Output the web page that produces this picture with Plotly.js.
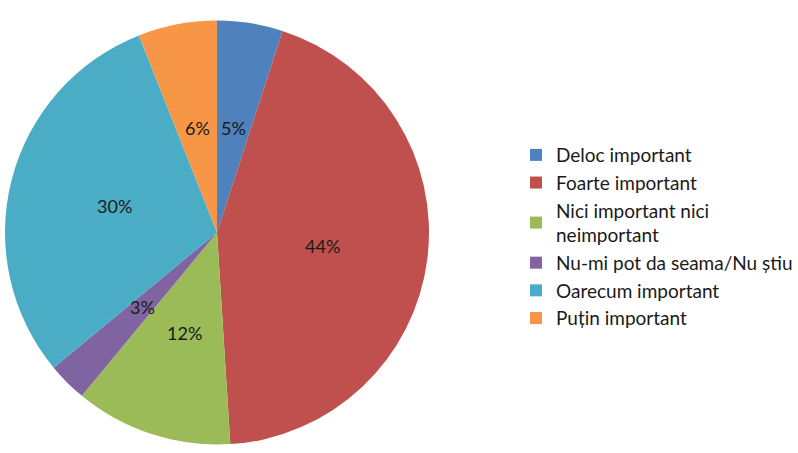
<!DOCTYPE html>
<html>
<head>
<meta charset="utf-8">
<script src="https://cdn.plot.ly/plotly-3.0.1.min.js"></script>
<style>html,body{margin:0;padding:0;background:#fff;}#chart{width:798px;height:453px;}</style>
</head>
<body>
<div id="chart"></div>
<script>
const categories = ["Deloc important", "Foarte important", "Nici important nici<br>neimportant", "Nu-mi pot da seama/Nu știu", "Oarecum important", "Puțin important"];
const values = [5, 44, 12, 3, 30, 6];
const colors = ["#4F81BD", "#C0504D", "#9BBB59", "#8064A2", "#4BACC6", "#F79646"];

const W = 798, H = 453;
const dom = {x: [5 / W, 429 / W], y: [0, 1 - 12 / H]};

const trace = {
  type: 'pie',
  labels: categories,
  values: values,
  sort: false,
  direction: 'clockwise',
  rotation: 0,
  marker: {colors: colors, line: {width: 0}},
  textinfo: 'none',
  domain: dom,
  hoverinfo: 'label+percent'
};

// Percent labels placed at about half radius along each slice's mid-angle (derived from values)
const total = values.reduce((a, b) => a + b, 0);
const cxPx = (dom.x[0] + dom.x[1]) / 2 * W;
const cyPx = (dom.y[0] + dom.y[1]) / 2 * H;
const Rpx = Math.min((dom.x[1] - dom.x[0]) * W, (dom.y[1] - dom.y[0]) * H) / 2;
const annotations = [];
let cum = 0;
values.forEach((v, i) => {
  const mid = (cum + v / 2) / total * 2 * Math.PI;
  cum += v;
  const r = 0.5 * Rpx;
  annotations.push({
    xref: 'paper', yref: 'paper',
    x: (cxPx + r * Math.sin(mid)) / W,
    y: (cyPx + r * Math.cos(mid)) / H,
    xanchor: 'center', yanchor: 'middle',
    text: Math.round(v / total * 100) + '%',
    showarrow: false,
    font: {family: 'Lato, "Open Sans", sans-serif', size: 18, color: '#1a1a1a'}
  });
});

const layout = {
  width: W, height: H,
  margin: {l: 0, r: 0, t: 0, b: 0},
  paper_bgcolor: '#fff',
  showlegend: true,
  annotations: annotations,
  legend: {
    x: 1, y: 1 - 136 / H, xanchor: 'right', yanchor: 'top',
    font: {family: 'Lato, "Open Sans", sans-serif', size: 19, color: '#1a1a1a'},
    itemwidth: 30,
    tracegroupgap: 0
  }
};

Plotly.newPlot('chart', [trace], layout, {displayModeBar: false});
</script>
</body>
</html>
